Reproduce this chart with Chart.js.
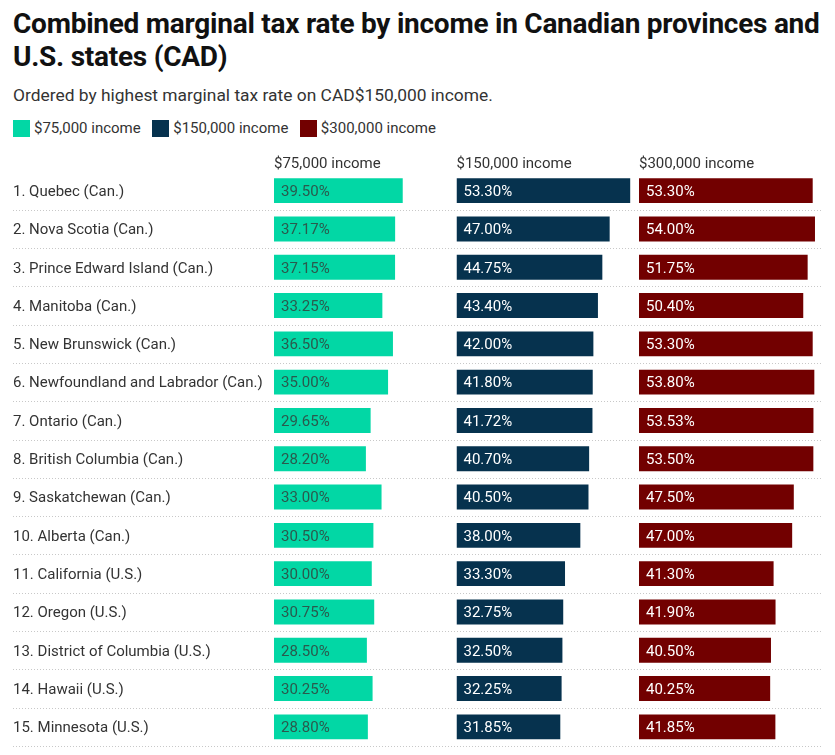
<!DOCTYPE html>
<html>
<head>
<meta charset="utf-8">
<script src="https://cdn.jsdelivr.net/npm/chart.js@4.4.1/dist/chart.umd.min.js"></script>
<style>
  html, body { margin: 0; padding: 0; background: #fff; }
  body { width: 835px; height: 755px; position: relative; overflow: hidden; font-family: Roboto, "Noto Sans", sans-serif; }
  #title { position: absolute; left: 13px; top: 6.9px; font-size: 28px; letter-spacing: -0.25px; line-height: 33px; font-weight: 700; color: #111; white-space: nowrap; }
  #subtitle { position: absolute; left: 13px; top: 85px; font-size: 17.4px; line-height: 20px; color: #333; white-space: nowrap; }
  #legend { position: absolute; left: 13px; top: 118.6px; height: 18px; font-size: 15px; line-height: 18px; color: #333; white-space: nowrap; display: flex; }
  .item { display: flex; align-items: flex-start; margin-right: 11.5px; }
  .sw { width: 17px; height: 17px; margin-top: 1.4px; margin-right: 4px; }
  #wrap { position: absolute; left: 0; top: 150px; width: 835px; height: 605px; }
</style>
</head>
<body>
<div id="title">Combined marginal tax rate by income in Canadian provinces and<br>U.S. states (CAD)</div>
<div id="subtitle">Ordered by highest marginal tax rate on CAD$150,000 income.</div>
<div id="legend"></div>
<div id="wrap"><canvas id="c" width="835" height="605"></canvas></div>
<script>
const rows = [
  "1. Quebec (Can.)", "2. Nova Scotia (Can.)", "3. Prince Edward Island (Can.)",
  "4. Manitoba (Can.)", "5. New Brunswick (Can.)", "6. Newfoundland and Labrador (Can.)",
  "7. Ontario (Can.)", "8. British Columbia (Can.)", "9. Saskatchewan (Can.)",
  "10. Alberta (Can.)", "11. California (U.S.)", "12. Oregon (U.S.)",
  "13. District of Columbia (U.S.)", "14. Hawaii (U.S.)", "15. Minnesota (U.S.)"
];
const seriesNames = ["$75,000 income", "$150,000 income", "$300,000 income"];
const inc75  = [39.50, 37.17, 37.15, 33.25, 36.50, 35.00, 29.65, 28.20, 33.00, 30.50, 30.00, 30.75, 28.50, 30.25, 28.80];
const inc150 = [53.30, 47.00, 44.75, 43.40, 42.00, 41.80, 41.72, 40.70, 40.50, 38.00, 33.30, 32.75, 32.50, 32.25, 31.85];
const inc300 = [53.30, 54.00, 51.75, 50.40, 53.30, 53.80, 53.53, 53.50, 47.50, 47.00, 41.30, 41.90, 40.50, 40.25, 41.85];

const colors = ["#02d7a5", "#06324e", "#720000"];
const labelColors = ["#2a5a4d", "#ffffff", "#ffffff"];
const values = [inc75, inc150, inc300];
const axisIds = ["x1", "x2", "x3"];

// HTML legend
const leg = document.getElementById('legend');
seriesNames.forEach((n, i) => {
  const it = document.createElement('div'); it.className = 'item';
  const sw = document.createElement('div'); sw.className = 'sw'; sw.style.background = colors[i];
  const t = document.createElement('span'); t.textContent = n;
  it.appendChild(sw); it.appendChild(t); leg.appendChild(it);
});

const FONT = "Roboto";

const separators = {
  id: 'separators',
  beforeDatasetsDraw(chart) {
    const ctx = chart.ctx, y = chart.scales.y, area = chart.chartArea;
    ctx.save();
    ctx.strokeStyle = '#c8c8c8';
    ctx.lineWidth = 1;
    ctx.setLineDash([1, 2]);
    for (let i = 0; i < rows.length; i++) {
      const half = (y.getPixelForValue(1) - y.getPixelForValue(0)) / 2;
      const py = Math.round(y.getPixelForValue(i) + half) + 0.5;
      ctx.beginPath();
      ctx.moveTo(13, py);
      ctx.lineTo(area.right, py);
      ctx.stroke();
    }
    ctx.restore();
  }
};

const valueLabels = {
  id: 'valueLabels',
  afterDatasetsDraw(chart) {
    const ctx = chart.ctx;
    ctx.save();
    ctx.font = "15px " + FONT;
    ctx.textBaseline = 'middle';
    ctx.textAlign = 'left';
    chart.data.datasets.forEach((ds, di) => {
      const meta = chart.getDatasetMeta(di);
      ctx.fillStyle = labelColors[di];
      meta.data.forEach((el, i) => {
        ctx.fillText(ds.data[i].toFixed(2) + '%', el.base + 7, el.y + 1.5);
      });
    });
    ctx.restore();
  }
};

const xAxis = (i) => ({
  type: 'linear',
  position: 'top',
  stack: 'cols',
  stackWeight: 1,
  weight: 3 - i,
  min: 0,
  max: 56,
  grid: { display: false, drawTicks: false },
  border: { display: false },
  ticks: { display: false },
  title: {
    display: true,
    text: seriesNames[i],
    align: 'start',
    color: '#333',
    font: { family: FONT, size: 15, lineHeight: 1 },
    padding: { top: 6.5, bottom: 0 }
  }
});

new Chart(document.getElementById('c'), {
  type: 'bar',
  data: {
    labels: rows,
    datasets: values.map((v, i) => ({
      label: seriesNames[i],
      data: v,
      xAxisID: axisIds[i],
      yAxisID: 'y',
      backgroundColor: colors[i],
      borderWidth: 0,
      grouped: false,
      barPercentage: 0.65,
      categoryPercentage: 1
    }))
  },
  options: {
    indexAxis: 'y',
    responsive: false,
    animation: false,
    layout: { padding: { left: 13, right: 13.5, top: 0, bottom: 6.25 } },
    plugins: { legend: { display: false }, title: { display: false }, tooltip: { enabled: false } },
    scales: {
      x1: xAxis(0),
      x2: xAxis(1),
      x3: xAxis(2),
      y: {
        type: 'category',
        position: 'left',
        grid: { display: false, drawTicks: false },
        border: { display: false },
        ticks: { crossAlign: 'far', color: '#333', padding: 0, labelOffset: 1.5, font: { family: FONT, size: 15 } },
        afterFit(s) { s.width = 261; }
      }
    }
  },
  plugins: [separators, valueLabels]
});
</script>
</body>
</html>
